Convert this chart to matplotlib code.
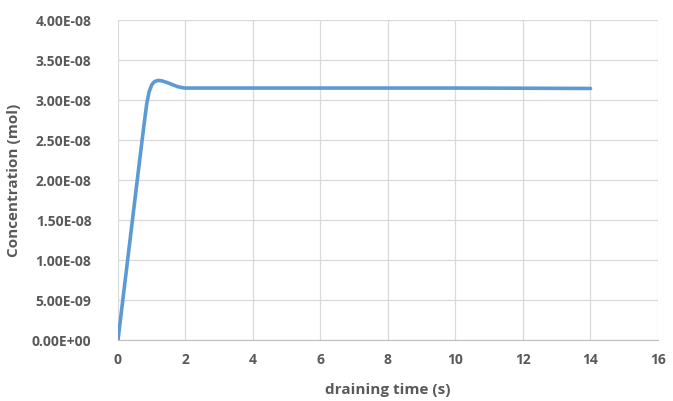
import matplotlib.pyplot as plt
from matplotlib.ticker import FuncFormatter

# draining time (s) and concentration (mol)
time_s = [0, 0.2, 0.4, 0.6, 0.75, 0.85, 0.92, 1.0, 1.08, 1.18, 1.3, 1.45,
          1.6, 1.75, 1.9, 2.0, 4, 6, 8, 10, 12, 14]
conc = [0, 0.70e-8, 1.40e-8, 2.10e-8, 2.62e-8, 2.95e-8, 3.10e-8, 3.19e-8,
        3.23e-8, 3.245e-8, 3.24e-8, 3.22e-8, 3.195e-8, 3.17e-8, 3.155e-8,
        3.15e-8, 3.15e-8, 3.15e-8, 3.15e-8, 3.15e-8, 3.148e-8, 3.145e-8]

xticks = [0, 2, 4, 6, 8, 10, 12, 14, 16]
yticks = [i * 0.5e-8 for i in range(9)]

grey = '#595959'
plt.rcParams['font.family'] = ['Open Sans', 'DejaVu Sans']

fig = plt.figure(figsize=(6.73, 4.01), dpi=100)
ax = fig.add_axes([0.1753, 0.152, 0.8024, 0.798])

ax.plot(time_s, conc, color='#5B9BD5', lw=2.6, solid_capstyle='round')

ax.set_xlim(0, 16)
ax.set_ylim(0, 4e-8)
ax.set_xticks(xticks)
ax.set_yticks(yticks)
ax.yaxis.set_major_formatter(FuncFormatter(
    lambda v, p: '0.00E+00' if v == 0 else '%.2E' % v))
ax.grid(True, color='#D9D9D9', lw=0.9)
ax.set_axisbelow(True)
for s in ['top', 'right', 'left']:
    ax.spines[s].set_visible(False)
ax.spines['bottom'].set_color('#BFBFBF')
ax.tick_params(length=0, labelsize=10, labelcolor=grey)
ax.tick_params(axis='y', pad=19)
ax.tick_params(axis='x', pad=9)
for lab in ax.get_xticklabels() + ax.get_yticklabels():
    lab.set_fontweight('bold')

ax.set_xlabel('draining time (s)', fontsize=11, fontweight='bold', color=grey, labelpad=12)
ax.set_ylabel('Concentration (mol)', fontsize=11, fontweight='bold', color=grey, labelpad=8)

fig.savefig('out.png', dpi=100)
